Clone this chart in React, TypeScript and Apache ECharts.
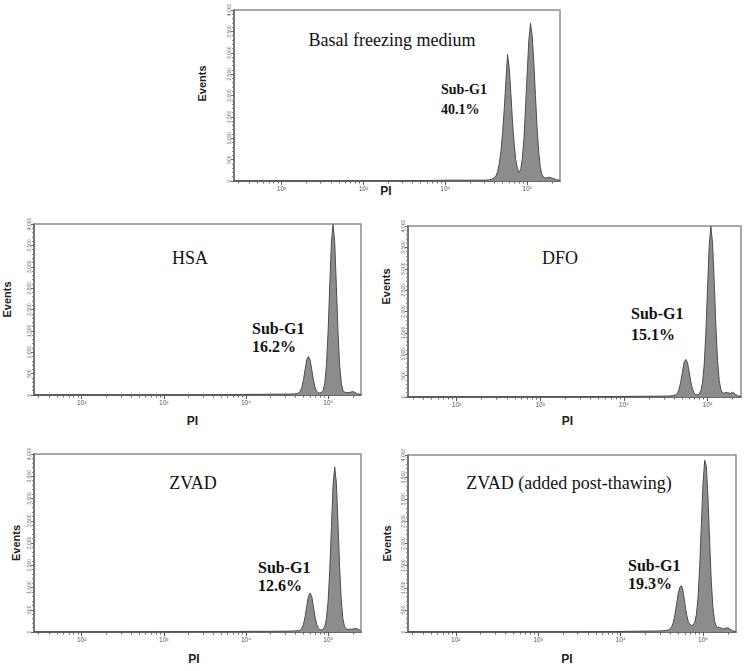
import React, { useEffect, useRef } from "react";
import * as echarts from "echarts";

// x positions: log10(PI) channel values
const logPI = [
  1.42, 2.5, 3.5, 3.9, 4.1, 4.3, 4.4, 4.46,
  4.5, 4.52, 4.54, 4.56, 4.58, 4.6, 4.62, 4.64, 4.66, 4.68, 4.7, 4.72, 4.74, 4.76,
  4.78, 4.8, 4.82, 4.84, 4.86, 4.88, 4.9, 4.92, 4.94, 4.96, 4.98, 5.0, 5.02, 5.04,
  5.06, 5.08, 5.1, 5.12, 5.14, 5.16, 5.18, 5.2, 5.22, 5.24,
  5.27, 5.3, 5.33, 5.36, 5.4,
];

const basalCounts = [
  0, 0, 5, 15, 20, 18, 20, 20,
  20, 25, 30, 40, 55, 80, 130, 230, 420, 720, 1150, 1700, 2350, 2960,
  2650, 2050, 1400, 870, 500, 290, 200, 260, 520, 1000, 1750, 2550, 3300, 3690,
  3400, 2800, 2000, 1250, 680, 320, 150, 90, 70, 75,
  90, 70, 50, 30, 15,
];

const hsaCounts = [
  0, 0, 3, 10, 15, 18, 20, 20,
  22, 22, 24, 25, 27, 28, 35, 45, 85, 180, 360, 600, 830, 900,
  830, 600, 360, 180, 90, 55, 45, 60, 110, 290, 710, 1500, 2570, 3580,
  3990, 3580, 2560, 1490, 700, 280, 110, 65, 55, 55,
  65, 80, 55, 25, 10,
];

const dfoCounts = [
  0, 0, 5, 12, 15, 18, 20, 20,
  22, 24, 25, 27, 30, 40, 50, 90, 180, 355, 590, 810, 880, 810,
  590, 355, 180, 90, 55, 50, 70, 140, 330, 750, 1500, 2550, 3550, 3990,
  3600, 2700, 1650, 850, 380, 170, 95, 90, 110, 100,
  85, 110, 70, 30, 10,
];

const zvadCounts = [
  0, 0, 8, 12, 15, 15, 18, 18,
  20, 20, 22, 22, 24, 25, 27, 30, 45, 85, 175, 345, 580, 800,
  875, 800, 580, 345, 175, 85, 50, 45, 60, 130, 310, 700, 1400, 2350,
  3300, 3710, 3350, 2450, 1450, 700, 290, 120, 70, 60,
  60, 65, 80, 70, 20,
];

const zvadPostCounts = [
  0, 0, 3, 10, 15, 20, 22, 25,
  28, 30, 33, 38, 48, 70, 120, 220, 400, 640, 880, 1020, 1046, 900,
  640, 400, 240, 170, 150, 160, 220, 400, 800, 1500, 2450, 3350, 3880, 3750,
  3050, 2050, 1150, 550, 250, 130, 100, 110, 85, 70,
  85, 95, 60, 25, 10,
];

const panelTitles = ["Basal freezing medium", "HSA", "DFO", "ZVAD", "ZVAD (added post-thawing)"];
const subG1Values = ["40.1%", "16.2%", "15.1%", "12.6%", "19.3%"];
const decadeTicks = [2, 3, 4, 5];
const decadeLabels = ["10\u00B2", "10\u00B3", "10\u2074", "10\u2075"];
const minorMultipliers = [2, 3, 4, 5, 6, 7, 8, 9];
const minorDecades = [1, 2, 3, 4, 5];
const X_MIN = 1.42;
const X_MAX = 5.4;
const Y_MAX = 4000;
const Y_STEP = 500;

const seriesCounts = [basalCounts, hsaCounts, dfoCounts, zvadCounts, zvadPostCounts];

// layout (pixels)
const layouts = [
  { grid: { left: 234, top: 10, width: 326, height: 171 }, piGap: 4, piPad: 22, evGap: 27, evShift: 12,
    title: [392, 40, 18], sub: [441, 89, 109, 14] },
  { grid: { left: 34, top: 224, width: 327, height: 171 }, piGap: 20, piPad: 10, evGap: 22, evShift: 10,
    title: [190, 258, 18], sub: [252, 328, 346, 16] },
  { grid: { left: 408, top: 226, width: 333, height: 171 }, piGap: 18, piPad: 14, evGap: 17, evShift: 25,
    title: [560, 258, 18], sub: [631, 313, 334, 16] },
  { grid: { left: 34, top: 454, width: 327, height: 178 }, piGap: 21, piPad: 7, evGap: 13, evShift: 0,
    title: [193, 483, 18], sub: [258, 567, 585, 16] },
  { grid: { left: 408, top: 455, width: 328, height: 177 }, piGap: 21, piPad: 10, evGap: 16, evShift: 0,
    title: [569, 483, 18], sub: [628, 565, 583, 16] },
];

function buildOption() {
  const minorTicks: number[] = [];
  minorDecades.forEach((d) =>
    minorMultipliers.forEach((k) => {
      const v = d + Math.log10(k);
      if (v >= X_MIN && v <= X_MAX) minorTicks.push(v);
    })
  );

  const grids: any[] = [];
  const xAxes: any[] = [];
  const yAxes: any[] = [];
  const series: any[] = [];
  const graphics: any[] = [];

  layouts.forEach((L, i) => {
    grids.push({
      ...L.grid,
      show: true,
      borderColor: "#8d8d8d",
      borderWidth: 1.5,
      backgroundColor: "transparent",
    });
    xAxes.push({
      type: "value",
      gridIndex: i,
      position: "bottom",
      min: X_MIN,
      max: X_MAX,
      axisLine: { show: true, onZero: false, lineStyle: { color: "#555", width: 1.5 } },
      axisTick: { show: true, customValues: decadeTicks, length: 4, lineStyle: { color: "#555" } },
      axisLabel: {
        show: true,
        customValues: decadeTicks,
        formatter: (v: number) => decadeLabels[decadeTicks.indexOf(Math.round(v))] || "",
        fontSize: 6.5,
        color: "#555",
        margin: 4,
        fontFamily: "Liberation Sans",
      },
      splitLine: { show: false },
      name: "PI",
      nameLocation: "middle",
      nameGap: L.piGap,
      nameMoveOverlap: false,
      nameTextStyle: {
        fontFamily: "Liberation Sans",
        fontWeight: "bold",
        fontSize: 12,
        color: "#222",
        padding: [0, L.piPad, 0, 0],
      },
    });
    xAxes.push({
      type: "value",
      gridIndex: i,
      position: "bottom",
      min: X_MIN,
      max: X_MAX,
      axisLine: { show: false },
      axisTick: { show: true, customValues: minorTicks, length: 2.5, lineStyle: { color: "#666" } },
      axisLabel: { show: false },
      splitLine: { show: false },
    });
    yAxes.push({
      type: "value",
      gridIndex: i,
      min: 0,
      max: Y_MAX,
      interval: Y_STEP,
      axisLine: { show: true, lineStyle: { color: "#666", width: 1.5 } },
      axisTick: { show: true, length: 3, lineStyle: { color: "#666" } },
      minorTick: { show: true, splitNumber: 5, length: 2, lineStyle: { color: "#888" } },
      axisLabel: {
        rotate: 90,
        fontSize: 5,
        margin: 3,
        color: "#666",
        fontFamily: "Liberation Sans",
        formatter: (v: number) => v.toLocaleString("en-US"),
      },
      splitLine: { show: false },
      minorSplitLine: { show: false },
      name: "Events",
      nameLocation: "middle",
      nameGap: L.evGap,
      nameMoveOverlap: false,
      nameTextStyle: {
        fontFamily: "Liberation Sans",
        fontWeight: "bold",
        fontSize: 11,
        color: "#222",
        padding: [0, 0, 0, L.evShift * 2],
      },
    });
    series.push({
      type: "line",
      xAxisIndex: i * 2,
      yAxisIndex: i,
      data: logPI.map((x, j) => [x, seriesCounts[i][j]]),
      showSymbol: false,
      symbol: "none",
      lineStyle: { color: "#4d4d4d", width: 1 },
      areaStyle: { color: "#8c8c8c", opacity: 1 },
      silent: true,
    });
    graphics.push({
      type: "text",
      x: L.title[0],
      y: L.title[1],
      style: {
        text: panelTitles[i],
        font: `${L.title[2]}px "Liberation Serif"`,
        fill: "#111",
        textAlign: "center",
        textVerticalAlign: "middle",
      },
    });
    graphics.push({
      type: "text",
      x: L.sub[0],
      y: L.sub[1],
      style: {
        text: "Sub-G1",
        font: `bold ${L.sub[3]}px "Liberation Serif"`,
        fill: "#111",
        textAlign: "left",
        textVerticalAlign: "middle",
      },
    });
    graphics.push({
      type: "text",
      x: L.sub[0],
      y: L.sub[2],
      style: {
        text: subG1Values[i],
        font: `bold ${L.sub[3]}px "Liberation Serif"`,
        fill: "#111",
        textAlign: "left",
        textVerticalAlign: "middle",
      },
    });
  });

  return {
    animation: false,
    backgroundColor: "#ffffff",
    grid: grids,
    xAxis: xAxes,
    yAxis: yAxes,
    series,
    graphic: graphics,
  };
}

export default function App() {
  const ref = useRef<HTMLDivElement>(null);
  useEffect(() => {
    if (!ref.current) return;
    const chart = echarts.init(ref.current, undefined, { renderer: "svg" });
    chart.setOption(buildOption() as any);
    return () => chart.dispose();
  }, []);
  return (
    <div
      ref={ref}
      style={{ position: "absolute", left: 0, top: 0, width: 744, height: 671 }}
    />
  );
}
